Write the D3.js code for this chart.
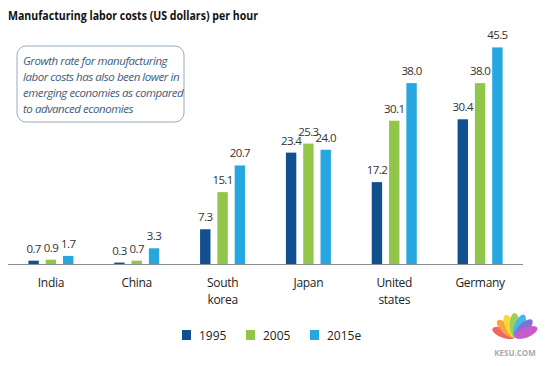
<!DOCTYPE html>
<html lang="en">
<head>
  <meta charset="UTF-8" />
  <title>Manufacturing labor costs</title>
  <script src="https://d3js.org/d3.v7.min.js"></script>
  <style>
    body { margin: 0; background: #fff; font-family: 'Open Sans', sans-serif; }
    .val { font-size: 11.5px; fill: #333; letter-spacing: -0.6px; }
    .cat { font-size: 12px; fill: #222; letter-spacing: -0.3px; }
    .leg { font-size: 12px; fill: #222; }
  </style>
</head>
<body>
  <svg id="chart" width="550" height="366"></svg>
  <script>
    // chart data
    const categories = ["India", "China", "South korea", "Japan", "United states", "Germany"];
    const series = ["1995", "2005", "2015e"];
    const values1995 = [0.7, 0.3, 7.3, 23.4, 17.2, 30.4];
    const values2005 = [0.9, 0.7, 15.1, 25.3, 30.1, 38.0];
    const values2015 = [1.7, 3.3, 20.7, 24.0, 38.0, 45.5];
    const colors = ["#114f8e", "#92c64a", "#27a7df"];
    const noteLines = [
      "Growth rate for manufacturing",
      "labor costs has also been lower in",
      "emerging economies as compared",
      "to advanced economies"
    ];

    const svg = d3.select("#chart");
    const base = 264;

    const rows = categories.map((c, i) => ({
      cat: c,
      vals: [values1995[i], values2005[i], values2015[i]]
    }));

    const x = d3.scaleBand().domain(categories).range([8, 523]);
    const xSub = d3.scaleBand().domain(series).range([-22.5, 22.5]).paddingInner(0.4);
    const y = d3.scaleLinear().domain([0, 50]).range([base, base - 238]);

    // title
    svg.append("text")
      .attr("x", 8).attr("y", 20)
      .attr("font-size", 13).attr("font-weight", "bold")
      .attr("fill", "#111")
      .attr("textLength", 250).attr("lengthAdjust", "spacingAndGlyphs")
      .text("Manufacturing labor costs (US dollars) per hour");

    // note box
    svg.append("rect")
      .attr("x", 17).attr("y", 46).attr("width", 167).attr("height", 76)
      .attr("rx", 9).attr("fill", "#fff")
      .attr("stroke", "#9aabbd").attr("stroke-width", 1);
    svg.append("g").selectAll("text")
      .data(noteLines).join("text")
      .attr("x", 23).attr("y", (d, i) => 65 + i * 16)
      .attr("font-size", 11.5).attr("font-style", "italic")
      .attr("fill", "#3f5b7c")
      .attr("letter-spacing", -0.45)
      .text(d => d);

    // bars
    const groups = svg.append("g").selectAll("g")
      .data(rows).join("g")
      .attr("transform", d => `translate(${x(d.cat) + x.bandwidth() / 2},0)`);

    groups.selectAll("rect")
      .data(d => d.vals.map((v, k) => ({ s: series[k], v, k })))
      .join("rect")
      .attr("x", d => xSub(d.s))
      .attr("width", xSub.bandwidth())
      .attr("y", d => y(d.v))
      .attr("height", d => base - y(d.v))
      .attr("fill", d => colors[d.k]);

    groups.selectAll("text.val")
      .data(d => d.vals.map((v, k) => ({ s: series[k], v, k })))
      .join("text")
      .attr("class", "val")
      .attr("x", d => xSub(d.s) + xSub.bandwidth() / 2)
      .attr("y", d => y(d.v) - 8)
      .attr("text-anchor", "middle")
      .text(d => d.v.toFixed(1));

    // axis line
    svg.append("line")
      .attr("x1", 8).attr("x2", 523)
      .attr("y1", base + 0.5).attr("y2", base + 0.5)
      .attr("stroke", "#8a8f96").attr("stroke-width", 1);

    // category labels
    groups.each(function (d) {
      const words = d.cat.split(" ");
      const t = d3.select(this).append("text")
        .attr("class", "cat").attr("text-anchor", "middle");
      words.forEach((w, i) => {
        t.append("tspan").attr("x", 0).attr("y", 287 + i * 17).text(w);
      });
    });

    // legend
    const legX = [182, 246, 310];
    const leg = svg.append("g").selectAll("g")
      .data(series).join("g")
      .attr("transform", (d, i) => `translate(${legX[i]},330)`);
    leg.append("rect").attr("width", 9).attr("height", 10)
      .attr("fill", (d, i) => colors[i]);
    leg.append("text").attr("class", "leg")
      .attr("x", 17).attr("y", 9.5).text(d => d);

    // watermark
    const wm = svg.append("g").attr("transform", "translate(515,337)").attr("opacity", 0.85);
    const fan = ["#f04a4a", "#f7941d", "#fcd116", "#8cc63f", "#29abe2", "#6a5acd", "#c040c0"];
    fan.forEach((c, i) => {
      const a = -160 + i * 23;
      wm.append("ellipse")
        .attr("cx", 0).attr("cy", -12).attr("rx", 5).attr("ry", 12)
        .attr("fill", c)
        .attr("transform", `rotate(${a + 90})`);
    });
    svg.append("text").attr("x", 515).attr("y", 356)
      .attr("text-anchor", "middle").attr("font-size", 8)
      .attr("fill", "#aaa").attr("font-weight", "bold")
      .text("KESU.COM");
  </script>
</body>
</html>
